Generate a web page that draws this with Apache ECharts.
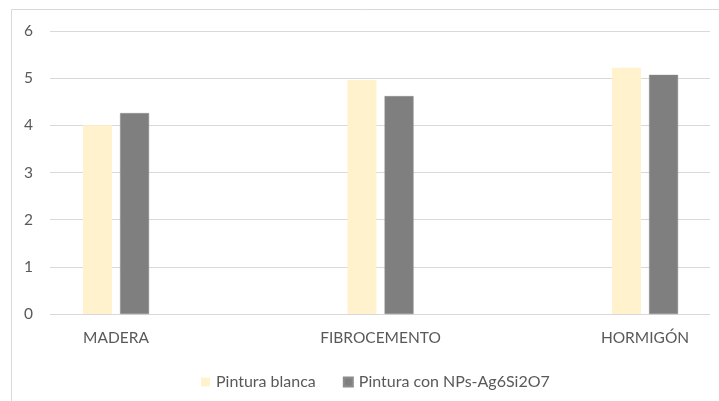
<!DOCTYPE html>
<html>
<head>
<meta charset="utf-8">
<script src="https://cdn.jsdelivr.net/npm/echarts@6/dist/echarts.min.js"></script>
<style>
  html, body { margin: 0; padding: 0; background: #fff; }
  #chart { width: 719px; height: 401px; }
</style>
</head>
<body>
<div id="chart"></div>
<script>
// Surfaces tested
const categories = ['MADERA', 'FIBROCEMENTO', 'HORMIGÓN'];
// Series values
const seriesNames = ['Pintura blanca', 'Pintura con NPs-Ag6Si2O7'];
const pinturaBlanca = [4.0, 4.96, 5.22];
const pinturaNPs = [4.26, 4.62, 5.07];
// Value axis range
const yMin = 0, yMax = 6, yStep = 1;

const font = 'Lato, "Open Sans", sans-serif';
const textColor = '#595959';
const lineColor = '#d9d9d9';

const chart = echarts.init(document.getElementById('chart'), null, { renderer: 'canvas' });

chart.setOption({
  animation: false,
  backgroundColor: '#ffffff',
  graphic: [{
    type: 'rect',
    shape: { x: 11.5, y: 9.5, width: 720, height: 400 },
    style: { fill: 'none', stroke: lineColor, lineWidth: 1 },
    silent: true
  }],
  grid: [
    // plot area carrying the gridlines and value labels
    { left: 50, right: 9, top: 31, height: 283, containLabel: false },
    // inner band where the categories sit
    { left: 116, right: 74, top: 31, height: 283, containLabel: false }
  ],
  xAxis: [
    { gridIndex: 0, type: 'category', data: categories, show: false },
    {
      gridIndex: 1, type: 'category', data: categories, boundaryGap: false,
      axisLine: { show: false }, axisTick: { show: false },
      axisLabel: { color: textColor, fontFamily: font, fontSize: 15.5, margin: 16 }
    }
  ],
  yAxis: [
    {
      gridIndex: 0, type: 'value', min: yMin, max: yMax, interval: yStep,
      axisLine: { show: false }, axisTick: { show: false },
      axisLabel: { color: textColor, fontFamily: font, fontSize: 15.5, margin: 17 },
      splitLine: { lineStyle: { color: lineColor, width: 1 } }
    },
    {
      gridIndex: 1, type: 'value', min: yMin, max: yMax, interval: yStep,
      show: false, splitLine: { show: false }
    }
  ],
  legend: {
    left: 196, top: 369,
    itemWidth: 9, itemHeight: 9, itemGap: 27,
    icon: 'rect',
    textStyle: { color: textColor, fontFamily: font, fontSize: 16, padding: [0, 0, 0, 1] },
    data: seriesNames
  },
  series: [
    {
      name: seriesNames[0], type: 'bar', xAxisIndex: 1, yAxisIndex: 1,
      data: pinturaBlanca, barWidth: 29, barGap: '28%',
      itemStyle: { color: '#fff2cc' }
    },
    {
      name: seriesNames[1], type: 'bar', xAxisIndex: 1, yAxisIndex: 1,
      data: pinturaNPs, barWidth: 29, barGap: '28%',
      itemStyle: { color: '#7f7f7f', borderColor: '#8c8c8c', borderWidth: 0.5 }
    }
  ]
});
</script>
</body>
</html>
